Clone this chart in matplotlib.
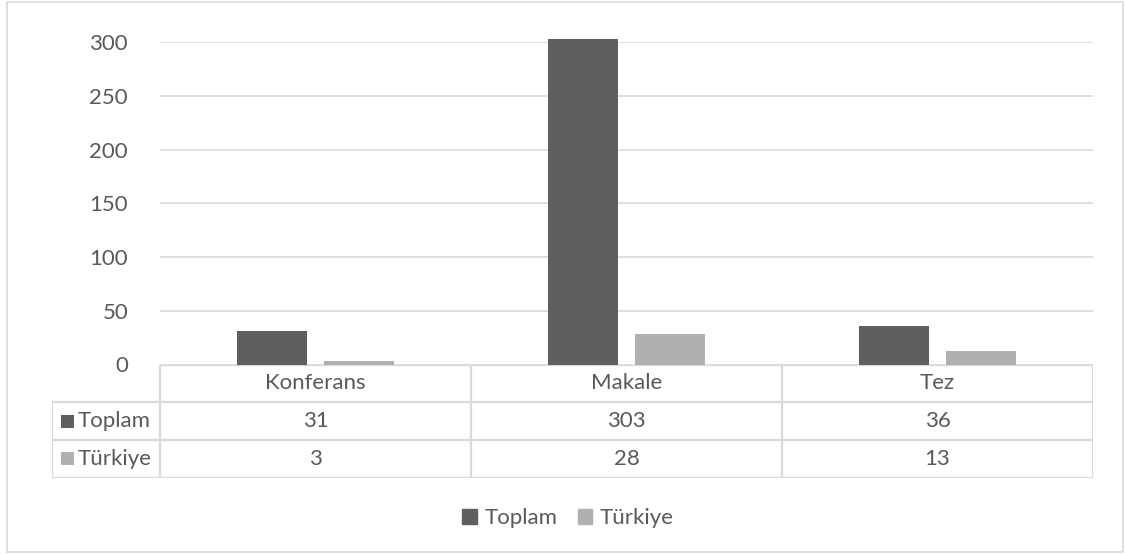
import matplotlib.pyplot as plt
from matplotlib.patches import Patch, Rectangle

categories = ['Konferans', 'Makale', 'Tez']
series_names = ['Toplam', 'Türkiye']
toplam = [31, 303, 36]
turkiye = [3, 28, 13]
yticks = [0, 50, 100, 150, 200, 250, 300]

colors = ['#5f5f5f', '#b0b0b0']
text_color = '#595959'
line_color = '#d9d9d9'
fs = 16

W, H = 1125, 554
plt.rcParams['font.family'] = ['Lato', 'DejaVu Sans']
fig = plt.figure(figsize=(W / 100, H / 100), dpi=100)


def px(x0, y0, x1, y1):
    # pixel box -> figure rect [left, bottom, width, height]
    return [x0 / W, 1 - y1 / H, (x1 - x0) / W, (y1 - y0) / H]


# outer chart border
fig.patches.append(Rectangle((6.5 / W, 1 - 552 / H), (1122.5 - 6.5) / W, (552 - 1.5) / H,
                             transform=fig.transFigure, fill=False,
                             edgecolor=line_color, linewidth=1.2))

ax = fig.add_axes(px(160, 42, 1093, 364.5))
x = list(range(len(categories)))
width = 0.225
ax.bar([i - 0.14 for i in x], toplam, width, color=colors[0], clip_on=False, zorder=3)
ax.bar([i + 0.14 for i in x], turkiye, width, color=colors[1], clip_on=False, zorder=3)
ax.set_xlim(-0.5, len(categories) - 0.5)
ax.set_ylim(0, 300)
ax.set_yticks(yticks)
ax.yaxis.grid(True, color=line_color, linewidth=1.2)
ax.set_axisbelow(True)
ax.set_xticks([])
ax.tick_params(axis='y', length=0, pad=23, labelsize=fs, labelcolor=text_color)
for s in ax.spines.values():
    s.set_visible(False)

# data table under the bars
label_w = 108 / 311
tab = fig.add_axes(px(52, 364.5, 1093, 477.5))
tab.set_xlim(-0.5 - label_w, len(categories) - 0.5)
tab.set_ylim(3, 0)
tab.axis('off')
lw = 1.6
# header row (no label column)
tab.plot([-0.5, len(categories) - 0.5], [0, 0], color=line_color, lw=lw)
for r in [1, 2, 3]:
    tab.plot([-0.5 - label_w, len(categories) - 0.5], [r, r], color=line_color, lw=lw)
tab.plot([-0.5 - label_w] * 2, [1, 3], color=line_color, lw=lw)
for c in range(len(categories) + 1):
    tab.plot([c - 0.5] * 2, [0, 3], color=line_color, lw=lw)

for i, cat in enumerate(categories):
    tab.text(i, 0.5, cat, ha='center', va='center', fontsize=fs, color=text_color)
col_px = 311  # pixels per category column
row_px = 113 / 3
sq_w = 13 / col_px
sq_h = 13 / row_px
for r, (name, vals) in enumerate(zip(series_names, [toplam, turkiye]), start=1):
    for i, v in enumerate(vals):
        tab.text(i, r + 0.5, str(v), ha='center', va='center', fontsize=fs, color=text_color)
    tab.add_patch(Rectangle((-0.5 - label_w + 8.5 / col_px, r + 0.5 - sq_h / 2), sq_w, sq_h,
                            color=colors[r - 1], linewidth=0))
    tab.text(-0.5 - label_w + 26 / col_px, r + 0.5, name, ha='left', va='center',
             fontsize=fs, color=text_color)

handles = [Patch(color=c, label=n) for c, n in zip(colors, series_names)]
fig.legend(handles=handles, loc='center', bbox_to_anchor=(568 / W, 1 - 518 / H), ncol=2,
           frameon=False, fontsize=fs, labelcolor=text_color, handlelength=0.65,
           handleheight=0.65, handletextpad=0.35, columnspacing=0.9)

fig.savefig('out.png', dpi=100)
